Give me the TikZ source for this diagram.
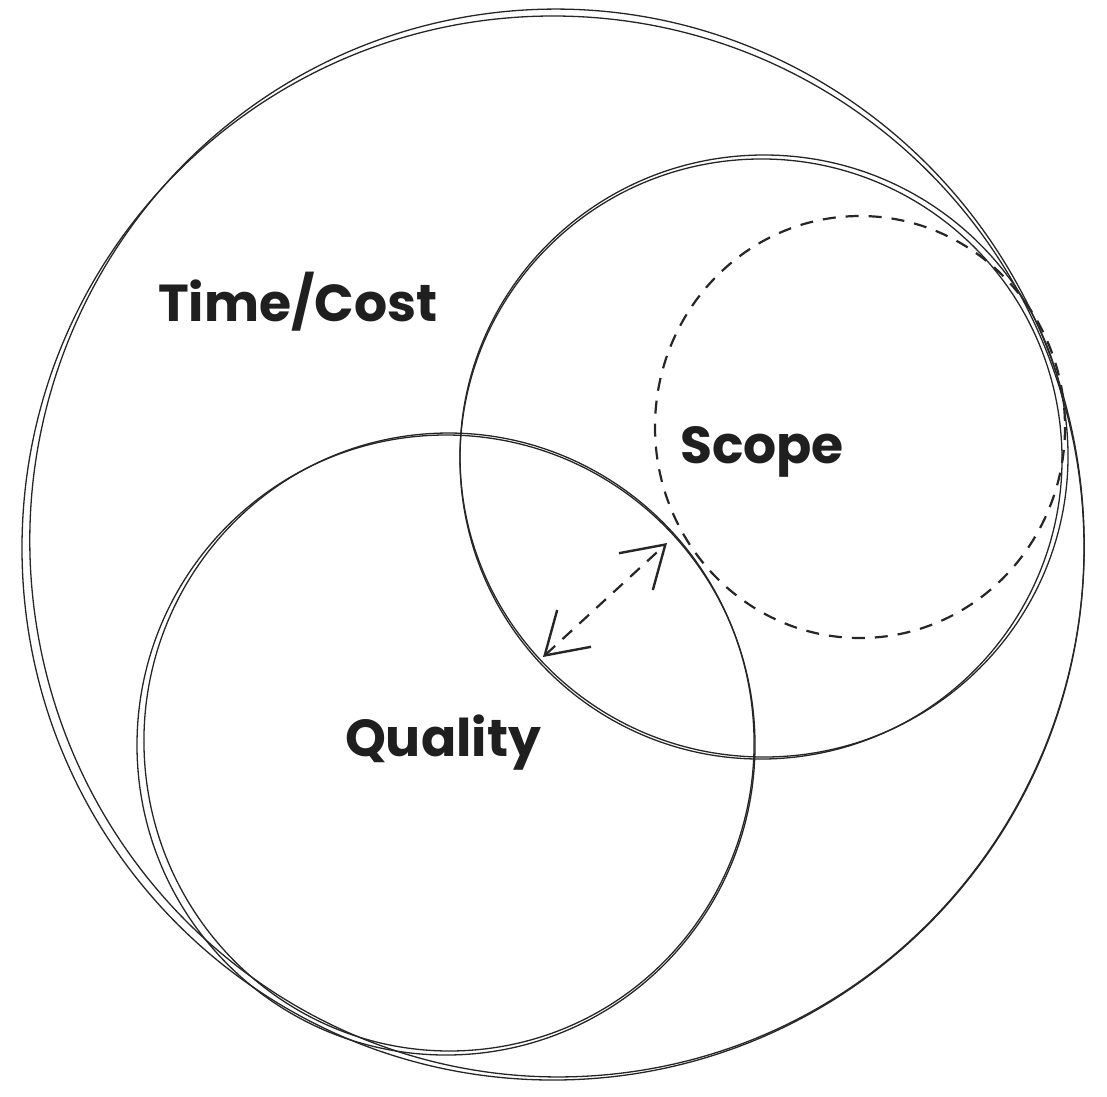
\documentclass[tikz,border=0pt]{standalone}
\usepackage{fontspec}
\setmainfont{Poppins}
\usetikzlibrary{arrows.meta}
\tikzset{
  sketch/.style={line width=1.3pt, draw=black!85},
  dashring/.style={line width=2.2pt, draw=black!85, dash pattern=on 13pt off 10pt},
  lbl/.style={font=\fontsize{52}{60}\selectfont\bfseries, text=black!88, inner sep=0pt},
  barb/.style={line width=2.2pt, draw=black!85, dash pattern=on 13pt off 10pt,
    {Straight Barb[length=40pt,width=50pt,line width=2.4pt]}-{Straight Barb[length=40pt,width=50pt,line width=2.4pt]}}
}
\begin{document}
\begin{tikzpicture}[x=1pt,y=-1pt]
\useasboundingbox (0,0) rectangle (1107,1096);
% outer circle (Time/Cost)
\draw[sketch] (553,548) ellipse [x radius=531, y radius=532];
\draw[sketch] (557,543) ellipse [x radius=527, y radius=534, rotate=8];
% Scope circle
\draw[sketch] (764,456) ellipse [x radius=304, y radius=301];
\draw[sketch] (761,459) ellipse [x radius=301, y radius=300, rotate=5];
% Quality circle
\draw[sketch] (446,745) ellipse [x radius=309, y radius=310];
\draw[sketch] (449,742) ellipse [x radius=305, y radius=309, rotate=6];
% dashed inner scope
\draw[dashring] (860,427) ellipse [x radius=205, y radius=211];
% labels
\node[lbl] (timecost) at (298,302) {Time/Cost};
\node[lbl] (scope) at (762,452) {Scope};
\node[lbl] (quality) at (443,743) {Quality};
% arrow
\coordinate (aq) at (543,657);
\coordinate (as) at (667,543);
\draw[barb] (aq) -- (as);
\end{tikzpicture}
\end{document}
